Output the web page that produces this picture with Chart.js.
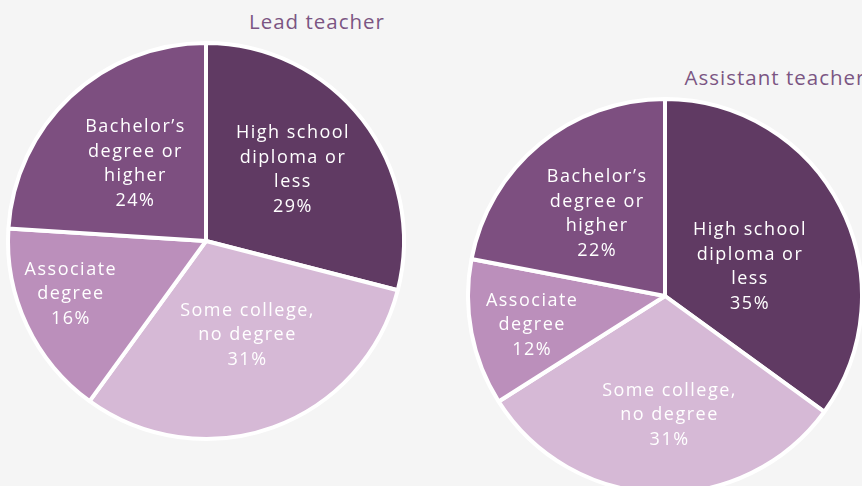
<!DOCTYPE html>
<html>
<head>
<meta charset="utf-8">
<script src="https://cdn.jsdelivr.net/npm/chart.js@4"></script>
<style>
  html, body { margin: 0; padding: 0; background: #f5f5f5; }
  body { width: 862px; height: 486px; position: relative; overflow: hidden; font-family: 'Open Sans', sans-serif; }
  .box { position: absolute; }
  .title { position: absolute; color: #7b5583; font-size: 20.5px; letter-spacing: 1px; white-space: nowrap; transform: translateX(-50%); }
</style>
</head>
<body>
<div class="title" style="left:317px; top:7px;">Lead teacher</div>
<div class="title" style="left:775px; top:63px;">Assistant teacher</div>
<div class="box" style="left:0; top:0; width:412px; height:486px;"><canvas id="leadChart"></canvas></div>
<div class="box" style="left:466px; top:0; width:398px; height:486px;"><canvas id="assistChart"></canvas></div>
<script>
const categories = ['High school diploma or less', 'Some college, no degree', 'Associate degree', "Bachelor’s degree or higher"];
const labelLines = [
  ['High school', 'diploma or', 'less'],
  ['Some college,', 'no degree'],
  ['Associate', 'degree'],
  ['Bachelor’s', 'degree or', 'higher'],
];
const leadValues = [29, 31, 16, 24];
const assistValues = [35, 31, 12, 22];
const sliceColors = ['#603a63', '#d6b9d6', '#bb8fbb', '#7d4f80'];

// label placement: [radius fraction, angle nudge in degrees]
const leadLabelPos = [[0.567, -1.4], [0.52, -4], [0.733, 3.8], [0.527, 0.7]];
const assistLabelPos = [[0.456, 8.2], [0.604, -4], [0.69, -1.5], [0.54, 0]];

Chart.defaults.font.family = "'Open Sans', sans-serif";

const pieLabels = {
  id: 'pieLabels',
  afterDatasetsDraw(chart, args, opts) {
    const ctx = chart.ctx;
    const meta = chart.getDatasetMeta(0);
    const values = chart.data.datasets[0].data;
    ctx.save();
    ctx.fillStyle = '#ffffff';
    ctx.font = "18px 'Open Sans', sans-serif";
    ctx.letterSpacing = '1.5px';
    ctx.textAlign = 'center';
    ctx.textBaseline = 'middle';
    meta.data.forEach((arc, i) => {
      const p = arc.getProps(['x', 'y', 'startAngle', 'endAngle', 'outerRadius'], true);
      const [f, nudge] = opts.pos[i];
      const mid = (p.startAngle + p.endAngle) / 2 + nudge * Math.PI / 180;
      const r = p.outerRadius * f;
      const cx = p.x + Math.cos(mid) * r;
      const cy = p.y + Math.sin(mid) * r;
      const lines = labelLines[i].concat([values[i] + '%']);
      const lh = 24.5;
      const top = cy - (lines.length - 1) * lh / 2;
      lines.forEach((t, j) => ctx.fillText(t, cx, top + j * lh));
    });
    ctx.restore();
  },
};

function makePie(id, values, pos, radius, padding) {
  return new Chart(document.getElementById(id).getContext('2d'), {
    type: 'pie',
    data: {
      labels: categories,
      datasets: [{
        data: values,
        backgroundColor: sliceColors,
        borderColor: '#ffffff',
        borderWidth: 4,
        clip: false,
      }],
    },
    options: {
      responsive: true,
      maintainAspectRatio: false,
      animation: false,
      radius: radius,
      layout: { padding: padding },
      plugins: {
        legend: { display: false },
        tooltip: { enabled: false },
        pieLabels: { pos: pos },
      },
    },
    plugins: [pieLabels],
  });
}

makePie('leadChart', leadValues, leadLabelPos, 198, { bottom: 4 });
makePie('assistChart', assistValues, assistLabelPos, 197, { top: 106 });
</script>
</body>
</html>
